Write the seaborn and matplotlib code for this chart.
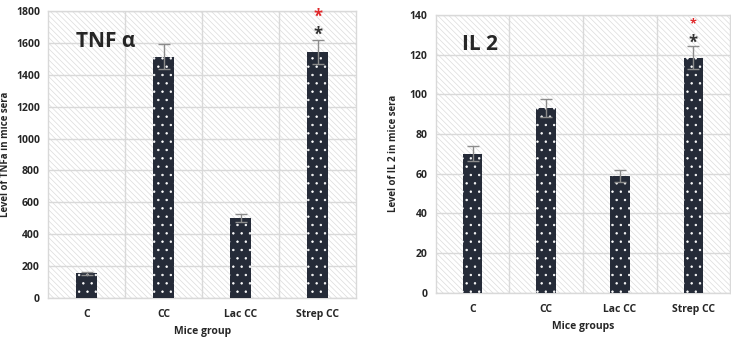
import matplotlib
matplotlib.use("Agg")
import matplotlib.pyplot as plt
import seaborn as sns
import pandas as pd
from matplotlib.patches import Rectangle

groups = ["C", "CC", "Lac CC", "Strep CC"]
tnf = [155, 1515, 500, 1545]
tnf_err = [10, 78, 25, 75]
il2 = [70, 93, 59, 118.5]
il2_err = [3.8, 4.5, 3, 6]

sns.set_theme(style="white")
plt.rcParams['font.family'] = ['Open Sans', 'DejaVu Sans']
plt.rcParams['hatch.linewidth'] = 0.5

fig = plt.figure(figsize=(7.31, 3.37), dpi=100)
ax1 = fig.add_axes([0.066, 0.116, 0.421, 0.851])
ax2 = fig.add_axes([0.596, 0.131, 0.403, 0.825])

grid_c = "#d9d9d9"


def panel(ax, vals, errs, ymax, step, title, ylabel, xlabel, star_y, red_y, red_size, lab_x):
    df = pd.DataFrame({"group": groups, "value": vals})
    # hatched background
    ax.add_patch(Rectangle((0, 0), 1, 1, transform=ax.transAxes, facecolor="white",
                           edgecolor="#dcdcdc", hatch="\\\\\\\\\\\\", linewidth=0, zorder=0))
    sns.barplot(data=df, x="group", y="value", color="#252b38", width=0.27,
                ax=ax, zorder=3, errorbar=None, saturation=1)
    for p in ax.patches[1:]:
        p.set_hatch("..")
        p.set_edgecolor("white")
        p.set_linewidth(0)
    ax.errorbar(groups, vals, yerr=errs, fmt="none", ecolor="#8c8c8c",
                elinewidth=1, capsize=4, capthick=1, zorder=4)
    ax.set_ylim(0, ymax)
    ax.set_xlim(-0.5, 3.5)
    ax.set_yticks(range(0, ymax + 1, step))
    ax.set_xticks([0.5, 1.5, 2.5], minor=True)
    ax.grid(True, which="major", axis="y", color=grid_c, linewidth=1, zorder=1)
    ax.grid(True, which="minor", axis="x", color=grid_c, linewidth=1, zorder=1)
    ax.grid(False, which="major", axis="x")
    ax.set_axisbelow(True)
    for s in ax.spines.values():
        s.set_color(grid_c)
        s.set_linewidth(1)
    ax.tick_params(axis="both", which="both", length=0)
    ax.tick_params(axis="x", pad=8)
    ax.tick_params(axis="y", pad=6)
    for t in ax.get_xticklabels() + ax.get_yticklabels():
        t.set_fontsize(7.5)
        t.set_fontweight("bold")
    ax.set_xlabel(xlabel, fontsize=7.5, fontweight="bold", labelpad=4)
    ax.set_ylabel(ylabel, fontsize=7, fontweight="bold")
    ax.yaxis.set_label_coords(lab_x, 0.5)
    ax.text(0.09, 0.93, title, transform=ax.transAxes, fontsize=15,
            fontweight="bold", va="top", ha="left")
    ax.text(3, star_y, "*", color="#333333", fontsize=12, fontweight="bold",
            ha="center", va="center", zorder=5)
    ax.text(3, red_y, "*", color="#e0282a", fontsize=red_size, fontweight="bold",
            ha="center", va="center", zorder=5)


panel(ax1, tnf, tnf_err, 1800, 200, "TNF α", "Level of TNFa in mice sera",
      "Mice group", 1655, 1765, 12, -0.122)
panel(ax2, il2, il2_err, 140, 20, "IL 2", "Level of IL 2 in mice sera",
      "Mice groups", 126, 135.5, 9, -0.125)

fig.savefig("out.png", dpi=100)
